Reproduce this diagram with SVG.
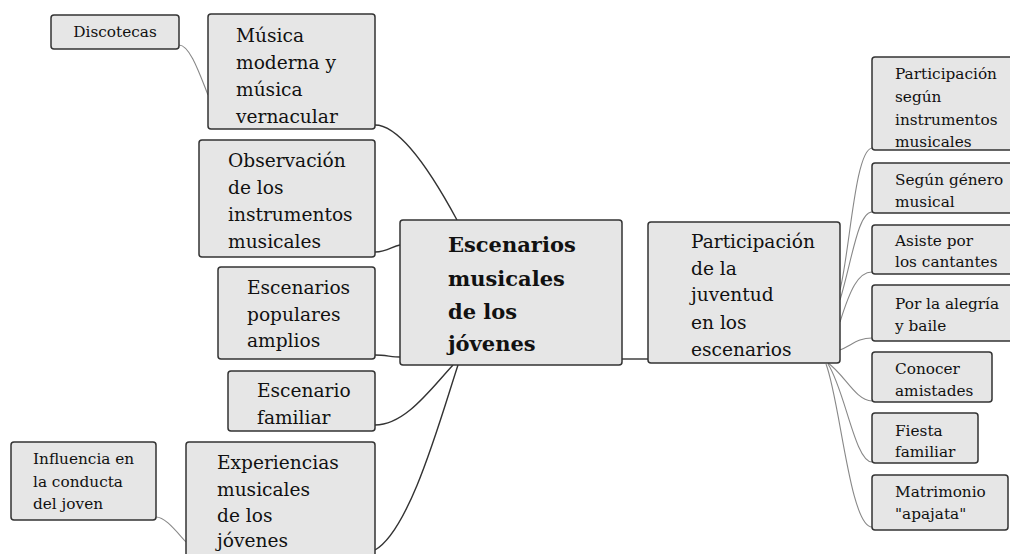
<svg xmlns="http://www.w3.org/2000/svg" width="1010" height="554" viewBox="0 0 1010 554">
<style>
.box{fill:#e6e6e6;stroke:#333;stroke-width:1.5}
text{font-family:'DejaVu Serif',serif;fill:#111}
.big{font-size:18.6px}
.sm{font-size:15.3px}
.bold{font-size:21px;font-weight:bold}
.main{fill:none;stroke:#333;stroke-width:1.4}
.sub{fill:none;stroke:#888;stroke-width:1.1}
</style>
<rect width="1010" height="554" fill="#fff"/>
<g id="connectors">
<path class="sub" d="M179,45 C190,45 200,75 208,95"/>
<path class="sub" d="M156,517 C165,517 175,530 186,542"/>
<path class="main" d="M375,125 C400,125 430,170 457,220"/>
<path class="main" d="M375,252 C388,252 392,246 400,245"/>
<path class="main" d="M375,355 C385,355 392,357 400,357"/>
<path class="main" d="M375,425 C405,425 430,390 453,365"/>
<path class="main" d="M375,550 C410,530 440,420 458,365"/>
<path class="main" d="M622,359 L648,359"/>
<path class="sub" d="M840,290 C850,250 855,150 872,148"/>
<path class="sub" d="M840,300 C852,260 858,212 872,212"/>
<path class="sub" d="M840,322 C850,290 858,272 872,272"/>
<path class="sub" d="M840,350 C852,345 858,338 872,338"/>
<path class="sub" d="M828,363 C845,375 855,400 872,401"/>
<path class="sub" d="M828,364 C845,390 855,462 872,462"/>
<path class="sub" d="M826,364 C840,400 850,527 872,527"/>
</g>
<g id="discotecas"><rect class="box" x="51" y="15" width="128" height="34" rx="3"/><text class="sm" x="115" y="37" text-anchor="middle">Discotecas</text></g>
<g id="musica"><rect class="box" x="208" y="14" width="167" height="115" rx="3"/><text class="big"><tspan x="236" y="42">Música</tspan><tspan x="236" y="69">moderna y</tspan><tspan x="236" y="96">música</tspan><tspan x="236" y="123">vernacular</tspan></text></g>
<g id="observacion"><rect class="box" x="199" y="140" width="176" height="117" rx="3"/><text class="big"><tspan x="228" y="167">Observación</tspan><tspan x="228" y="194">de los</tspan><tspan x="228" y="221">instrumentos</tspan><tspan x="228" y="248">musicales</tspan></text></g>
<g id="populares"><rect class="box" x="218" y="267" width="157" height="92" rx="3"/><text class="big"><tspan x="247" y="294">Escenarios</tspan><tspan x="247" y="321">populares</tspan><tspan x="247" y="347">amplios</tspan></text></g>
<g id="familiar"><rect class="box" x="228" y="371" width="147" height="60" rx="3"/><text class="big"><tspan x="257" y="397">Escenario</tspan><tspan x="257" y="424">familiar</tspan></text></g>
<g id="experiencias"><rect class="box" x="186" y="442" width="189" height="120" rx="3"/><text class="big"><tspan x="217" y="469">Experiencias</tspan><tspan x="217" y="496">musicales</tspan><tspan x="217" y="522">de los</tspan><tspan x="217" y="547">jóvenes</tspan></text></g>
<g id="influencia"><rect class="box" x="11" y="442" width="145" height="78" rx="3"/><text class="sm"><tspan x="33" y="464">Influencia en</tspan><tspan x="33" y="487">la conducta</tspan><tspan x="33" y="509">del joven</tspan></text></g>
<g id="center"><rect class="box" x="400" y="220" width="222" height="145" rx="3"/><text class="bold"><tspan x="448" y="252">Escenarios</tspan><tspan x="448" y="286">musicales</tspan><tspan x="448" y="319">de los</tspan><tspan x="448" y="351">jóvenes</tspan></text></g>
<g id="participacion"><rect class="box" x="648" y="222" width="192" height="141" rx="3"/><text class="big"><tspan x="691" y="248">Participación</tspan><tspan x="691" y="275">de la</tspan><tspan x="691" y="301">juventud</tspan><tspan x="691" y="329">en los</tspan><tspan x="691" y="356">escenarios</tspan></text></g>
<g id="instrumentos"><rect class="box" x="872" y="57" width="142" height="93" rx="3"/><text class="sm"><tspan x="895" y="79">Participación</tspan><tspan x="895" y="102">según</tspan><tspan x="895" y="125">instrumentos</tspan><tspan x="895" y="147">musicales</tspan></text></g>
<g id="genero"><rect class="box" x="872" y="163" width="142" height="50" rx="3"/><text class="sm"><tspan x="895" y="185">Según género</tspan><tspan x="895" y="207">musical</tspan></text></g>
<g id="cantantes"><rect class="box" x="872" y="225" width="142" height="49" rx="3"/><text class="sm"><tspan x="895" y="246">Asiste por</tspan><tspan x="895" y="267">los cantantes</tspan></text></g>
<g id="alegria"><rect class="box" x="872" y="285" width="142" height="56" rx="3"/><text class="sm"><tspan x="895" y="309">Por la alegría</tspan><tspan x="895" y="331">y baile</tspan></text></g>
<g id="amistades"><rect class="box" x="872" y="352" width="120" height="50" rx="3"/><text class="sm"><tspan x="895" y="374">Conocer</tspan><tspan x="895" y="396">amistades</tspan></text></g>
<g id="fiesta"><rect class="box" x="872" y="413" width="106" height="50" rx="3"/><text class="sm"><tspan x="895" y="436">Fiesta</tspan><tspan x="895" y="457">familiar</tspan></text></g>
<g id="matrimonio"><rect class="box" x="872" y="475" width="136" height="55" rx="3"/><text class="sm"><tspan x="895" y="497">Matrimonio</tspan><tspan x="895" y="519">"apajata"</tspan></text></g>
</svg>
